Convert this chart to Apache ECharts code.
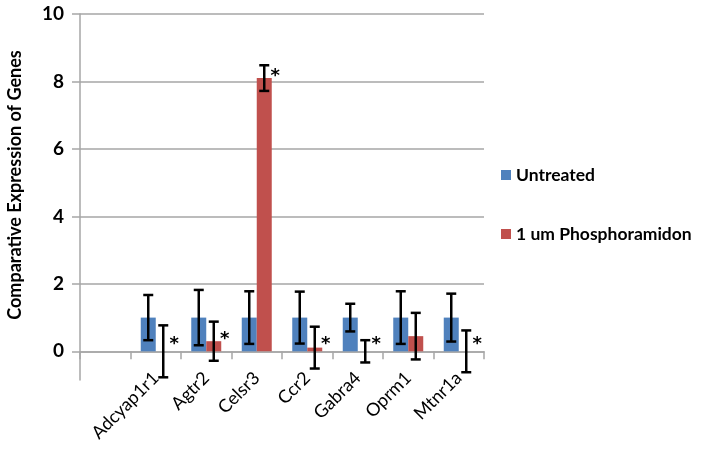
<!DOCTYPE html>
<html>
<head>
<meta charset="utf-8">
<script src="https://cdn.jsdelivr.net/npm/echarts@6/dist/echarts.min.js"></script>
<style>html,body{margin:0;padding:0;background:#fff}#c{width:702px;height:451px}</style>
</head>
<body>
<div id="c"></div>
<script>
const categories = ['', 'Adcyap1r1', 'Agtr2', 'Celsr3', 'Ccr2', 'Gabra4', 'Oprm1', 'Mtnr1a'];
const untreated = [null, 1, 1, 1, 1, 1, 1, 1];
const untreatedErr = [null, 0.67, 0.82, 0.78, 0.77, 0.41, 0.78, 0.71];
const phospho = [null, 0, 0.30, 8.1, 0.11, 0, 0.45, 0];
const phosphoErr = [null, 0.77, 0.58, 0.38, 0.62, 0.33, 0.69, 0.62];
const asteriskY = [null, 0.26, 0.41, 8.2, 0.26, 0.26, null, 0.26];
const yTicks = [0, 2, 4, 6, 8, 10];
const seriesNames = ['Untreated', '1 um Phosphoramidon'];

const BAR_W = 15;
const FONT = 'Lato, "Open Sans", sans-serif';
const GRID_COLOR = '#a6a6a6';

function errData(vals, errs) {
  const out = [];
  vals.forEach((v, i) => {
    if (v !== null) out.push([i, v - errs[i], v + errs[i]]);
  });
  return out;
}
function starData() {
  const out = [];
  asteriskY.forEach((v, i) => { if (v !== null) out.push([i, v]); });
  return out;
}
function errRender(offset) {
  return function (params, api) {
    const lo = api.coord([api.value(0), api.value(1)]);
    const hi = api.coord([api.value(0), api.value(2)]);
    const x = lo[0] + offset;
    const cap = 5;
    const style = { stroke: '#000', lineWidth: 2.5 };
    return {
      type: 'group',
      children: [
        { type: 'line', shape: { x1: x, y1: lo[1], x2: x, y2: hi[1] }, style },
        { type: 'line', shape: { x1: x - cap, y1: lo[1], x2: x + cap, y2: lo[1] }, style },
        { type: 'line', shape: { x1: x - cap, y1: hi[1], x2: x + cap, y2: hi[1] }, style }
      ]
    };
  };
}

const chart = echarts.init(document.getElementById('c'), null, { renderer: 'canvas' });
chart.setOption({
  animation: false,
  backgroundColor: '#fff',
  grid: { left: 80, top: 14, right: 218, bottom: 71, containLabel: false, outerBoundsMode: 'none' },
  legend: {
    orient: 'vertical',
    left: 496,
    top: 161,
    data: seriesNames,
    icon: 'rect',
    itemWidth: 10,
    itemHeight: 10,
    itemGap: 41,
    textStyle: { fontFamily: FONT, fontWeight: 'bold', fontSize: 17.5, color: '#000', lineHeight: 17 }
  },
  xAxis: {
    type: 'category',
    data: categories,
    axisLine: { onZero: true, lineStyle: { color: GRID_COLOR, width: 1.5 } },
    axisTick: { show: true, length: 8, alignWithLabel: false, interval: 0, lineStyle: { color: GRID_COLOR, width: 1.5 } },
    axisLabel: { interval: 0, rotate: 45, margin: -5, fontFamily: FONT, fontSize: 18, color: '#000' }
  },
  yAxis: {
    type: 'value',
    min: -0.85,
    max: 10,
    name: 'Comparative Expression of Genes',
    nameLocation: 'middle',
    nameGap: 56,
    nameTextStyle: { fontFamily: FONT, fontWeight: 'bold', fontSize: 18, color: '#000', padding: [0, 0, 0, 24] },
    axisLine: { show: true, lineStyle: { color: GRID_COLOR, width: 1.5 } },
    axisTick: { show: true, length: 8, customValues: yTicks, lineStyle: { color: GRID_COLOR, width: 1.5 } },
    axisLabel: { customValues: yTicks, margin: 16, fontFamily: FONT, fontWeight: 'bold', fontSize: 19, color: '#000' },
    splitLine: { show: true, lineStyle: { color: GRID_COLOR, width: 1.5 } }
  },
  series: [
    { name: seriesNames[0], type: 'bar', data: untreated, barWidth: BAR_W, barGap: '0%', itemStyle: { color: '#4F81BD' } },
    { name: seriesNames[1], type: 'bar', data: phospho, barWidth: BAR_W, barGap: '0%', itemStyle: { color: '#C0504D' } },
    { type: 'custom', renderItem: errRender(-BAR_W / 2), data: errData(untreated, untreatedErr), z: 5, clip: false },
    { type: 'custom', renderItem: errRender(BAR_W / 2), data: errData(phospho, phosphoErr), z: 5, clip: false },
    {
      type: 'custom', z: 6, clip: false, data: starData(),
      renderItem: function (params, api) {
        const p = api.coord([api.value(0), api.value(1)]);
        return {
          type: 'text',
          x: p[0] + BAR_W / 2 + 11,
          y: p[1] + 2,
          style: { text: '*', fontFamily: 'DejaVu Sans', fontWeight: 'bold', fontSize: 18, fill: '#000', align: 'center', verticalAlign: 'middle' }
        };
      }
    }
  ]
});
</script>
</body>
</html>
